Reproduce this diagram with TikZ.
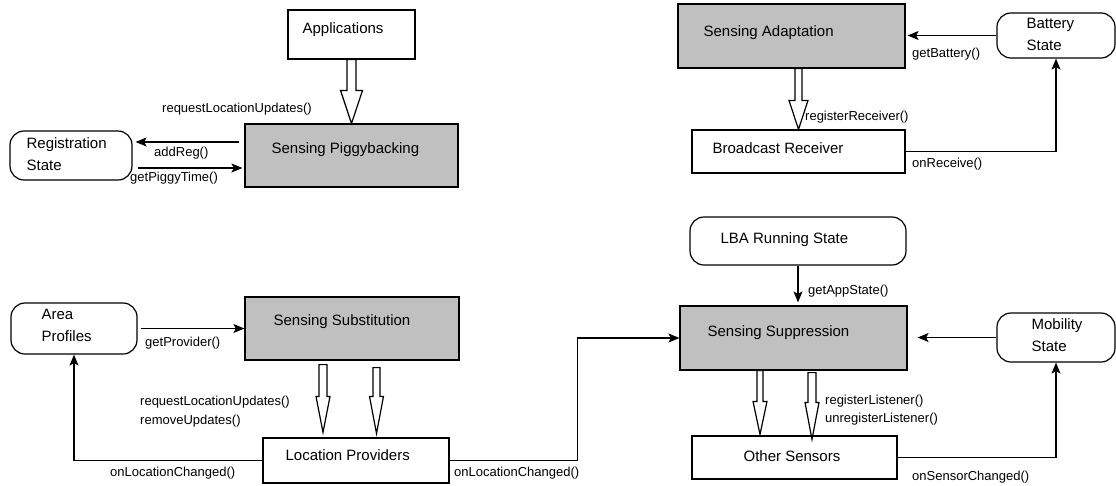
\documentclass[tikz,border=0pt]{standalone}
\usepackage{fontspec}
\setmainfont{Liberation Sans}
\usetikzlibrary{arrows.meta,calc}
\definecolor{boxgray}{HTML}{C0C0C0}
\newcommand\hollowarr[5]{%
  \draw[hollowline] let \p1=(#1), \p2=(#2) in
    (\x1-#3,\y1) -- (\x1-#3,\y2+#5) -- (\x1-#4,\y2+#5) -- (\x1,\y2)
    -- (\x1+#4,\y2+#5) -- (\x1+#3,\y2+#5) -- (\x1+#3,\y1) -- cycle;
}
\begin{document}
\begin{tikzpicture}[x=1pt,y=-1pt,
  plainbox/.style={draw, line width=1.2pt, fill=white, inner sep=0pt},
  graybox/.style={plainbox, fill=boxgray},
  roundbox/.style={plainbox, rounded corners=14pt},
  txt/.style={anchor=west, inner sep=0pt, align=left, font=\fontsize{15}{21.5}\selectfont},
  lbl/.style={anchor=west, inner sep=0pt, align=left, font=\fontsize{13}{18.5}\selectfont},
  conn/.style={line width=1.2pt, -{Stealth[length=11pt,width=9pt,inset=2.5pt]}},
  hollowline/.style={line width=1.2pt, fill=white, line join=miter}]
\useasboundingbox (0,0) rectangle (1116,485);

% ---- top left
\node[plainbox, minimum width=127pt, minimum height=49pt,
  label={[txt, xshift=15pt, yshift=4.5pt]west:Applications}] (apps) at (351.5,34.5) {};
\node[graybox, minimum width=213pt, minimum height=63pt,
  label={[txt, xshift=27pt, yshift=5.5pt]west:Sensing Piggybacking}] (piggy) at (351.5,155.5) {};
\node[roundbox, minimum width=122pt, minimum height=49pt,
  label={[txt, xshift=17pt, yshift=1.5pt]west:{Registration\\State}}] (reg) at (71,155.5) {};

% ---- top right
\node[graybox, minimum width=227pt, minimum height=64pt,
  label={[txt, xshift=26pt, yshift=3pt]west:Sensing Adaptation}] (adapt) at (791.5,36) {};
\node[roundbox, minimum width=118pt, minimum height=45pt,
  label={[txt, xshift=30pt, yshift=1pt]west:{Battery\\State}}] (battery) at (1056,35.5) {};
\node[plainbox, minimum width=213pt, minimum height=43pt,
  label={[txt, xshift=21pt, yshift=3.5pt]west:Broadcast Receiver}] (broadcast) at (798.5,151.5) {};

% ---- bottom left
\node[roundbox, minimum width=126pt, minimum height=51pt,
  label={[txt, xshift=31pt, yshift=3pt]west:{Area\\Profiles}}] (area) at (74,328.5) {};
\node[graybox, minimum width=214pt, minimum height=63pt,
  label={[txt, xshift=29pt, yshift=6.5pt]west:Sensing Substitution}] (subst) at (352,328.5) {};
\node[plainbox, minimum width=186pt, minimum height=45pt,
  label={[txt, xshift=23pt, yshift=5pt]west:Location Providers}] (locprov) at (356,460.5) {};

% ---- bottom right
\node[roundbox, minimum width=216pt, minimum height=48pt,
  label={[txt, xshift=31pt, yshift=1pt]west:LBA Running State}] (lba) at (798,241) {};
\node[graybox, minimum width=227pt, minimum height=64pt,
  label={[txt, xshift=28pt, yshift=5pt]west:Sensing Suppression}] (suppr) at (793.5,338) {};
\node[roundbox, minimum width=118pt, minimum height=49pt,
  label={[txt, xshift=35pt, yshift=2.5pt]west:{Mobility\\State}}] (mobility) at (1056,337.5) {};
\node[plainbox, minimum width=205pt, minimum height=43pt,
  label={[txt, xshift=52pt, yshift=1pt]west:Other Sensors}] (other) at (794.5,457.5) {};

% ---- hollow arrows
\hollowarr{apps.south}{piggy.north}{4.5pt}{11pt}{33pt}
\hollowarr{broadcast.north |- adapt.south}{broadcast.north}{3.5pt}{9.5pt}{29pt}
\hollowarr{$(subst.south)+(-29,4)$}{$(locprov.north)+(-33,-5)$}{4pt}{7pt}{36pt}
\hollowarr{$(subst.south)+(24.5,7)$}{$(locprov.north)+(20.5,-4)$}{3.5pt}{7pt}{37pt}
\hollowarr{$(suppr.south)+(-33.5,0)$}{$(other.north)+(-34.5,-1)$}{3pt}{7pt}{33pt}
\hollowarr{$(suppr.south)+(18.5,2)$}{$(other.north)+(17.5,4)$}{4pt}{7pt}{37pt}

% ---- thin connectors
\draw[conn] ($(piggy.west)+(-5,-13.5)$) -- ($(reg.east)+(3,-13.5)$);
\draw[conn] ($(reg.east)+(5,12.5)$) -- ($(piggy.west)+(-2,12.5)$);
\draw[conn] (battery.west) -- ($(battery.west -| adapt.east)+(2,0)$);
\draw[conn] (broadcast.east) -| (battery.south);
\draw[conn] ($(area.east)+(3,0)$) -- (subst.west |- area.east);
\draw[conn] (locprov.west) -| (area.south);
\draw[conn] (locprov.east) -- ++(128,0) |- (suppr.west);
\draw[conn, shorten >=3pt] (lba.south) -- (lba.south |- suppr.north);
\draw[conn, shorten >=10pt] (mobility.west) -- (mobility.west -| suppr.east);
\draw[conn] (other.east) -| (mobility.south);

% ---- connector labels
\node[lbl] (l1) at (162,109) {requestLocationUpdates()};
\node[lbl] (l2) at (154,153) {addReg()};
\node[lbl] (l3) at (130,178) {getPiggyTime()};
\node[lbl] (l4) at (912,54) {getBattery()};
\node[lbl] (l5) at (805,117) {registerReceiver()};
\node[lbl] (l6) at (912,164) {onReceive()};
\node[lbl] (l7) at (145,343) {getProvider()};
\node[lbl] (l8) at (140,411.5) {requestLocationUpdates()\\removeUpdates()};
\node[lbl] (l9) at (110,473) {onLocationChanged()};
\node[lbl] (l10) at (454,473) {onLocationChanged()};
\node[lbl] (l11) at (808,291) {getAppState()};
\node[lbl] (l12) at (825,410) {registerListener()\\unregisterListener()};
\node[lbl] (l13) at (912,477) {onSensorChanged()};
\end{tikzpicture}
\end{document}
